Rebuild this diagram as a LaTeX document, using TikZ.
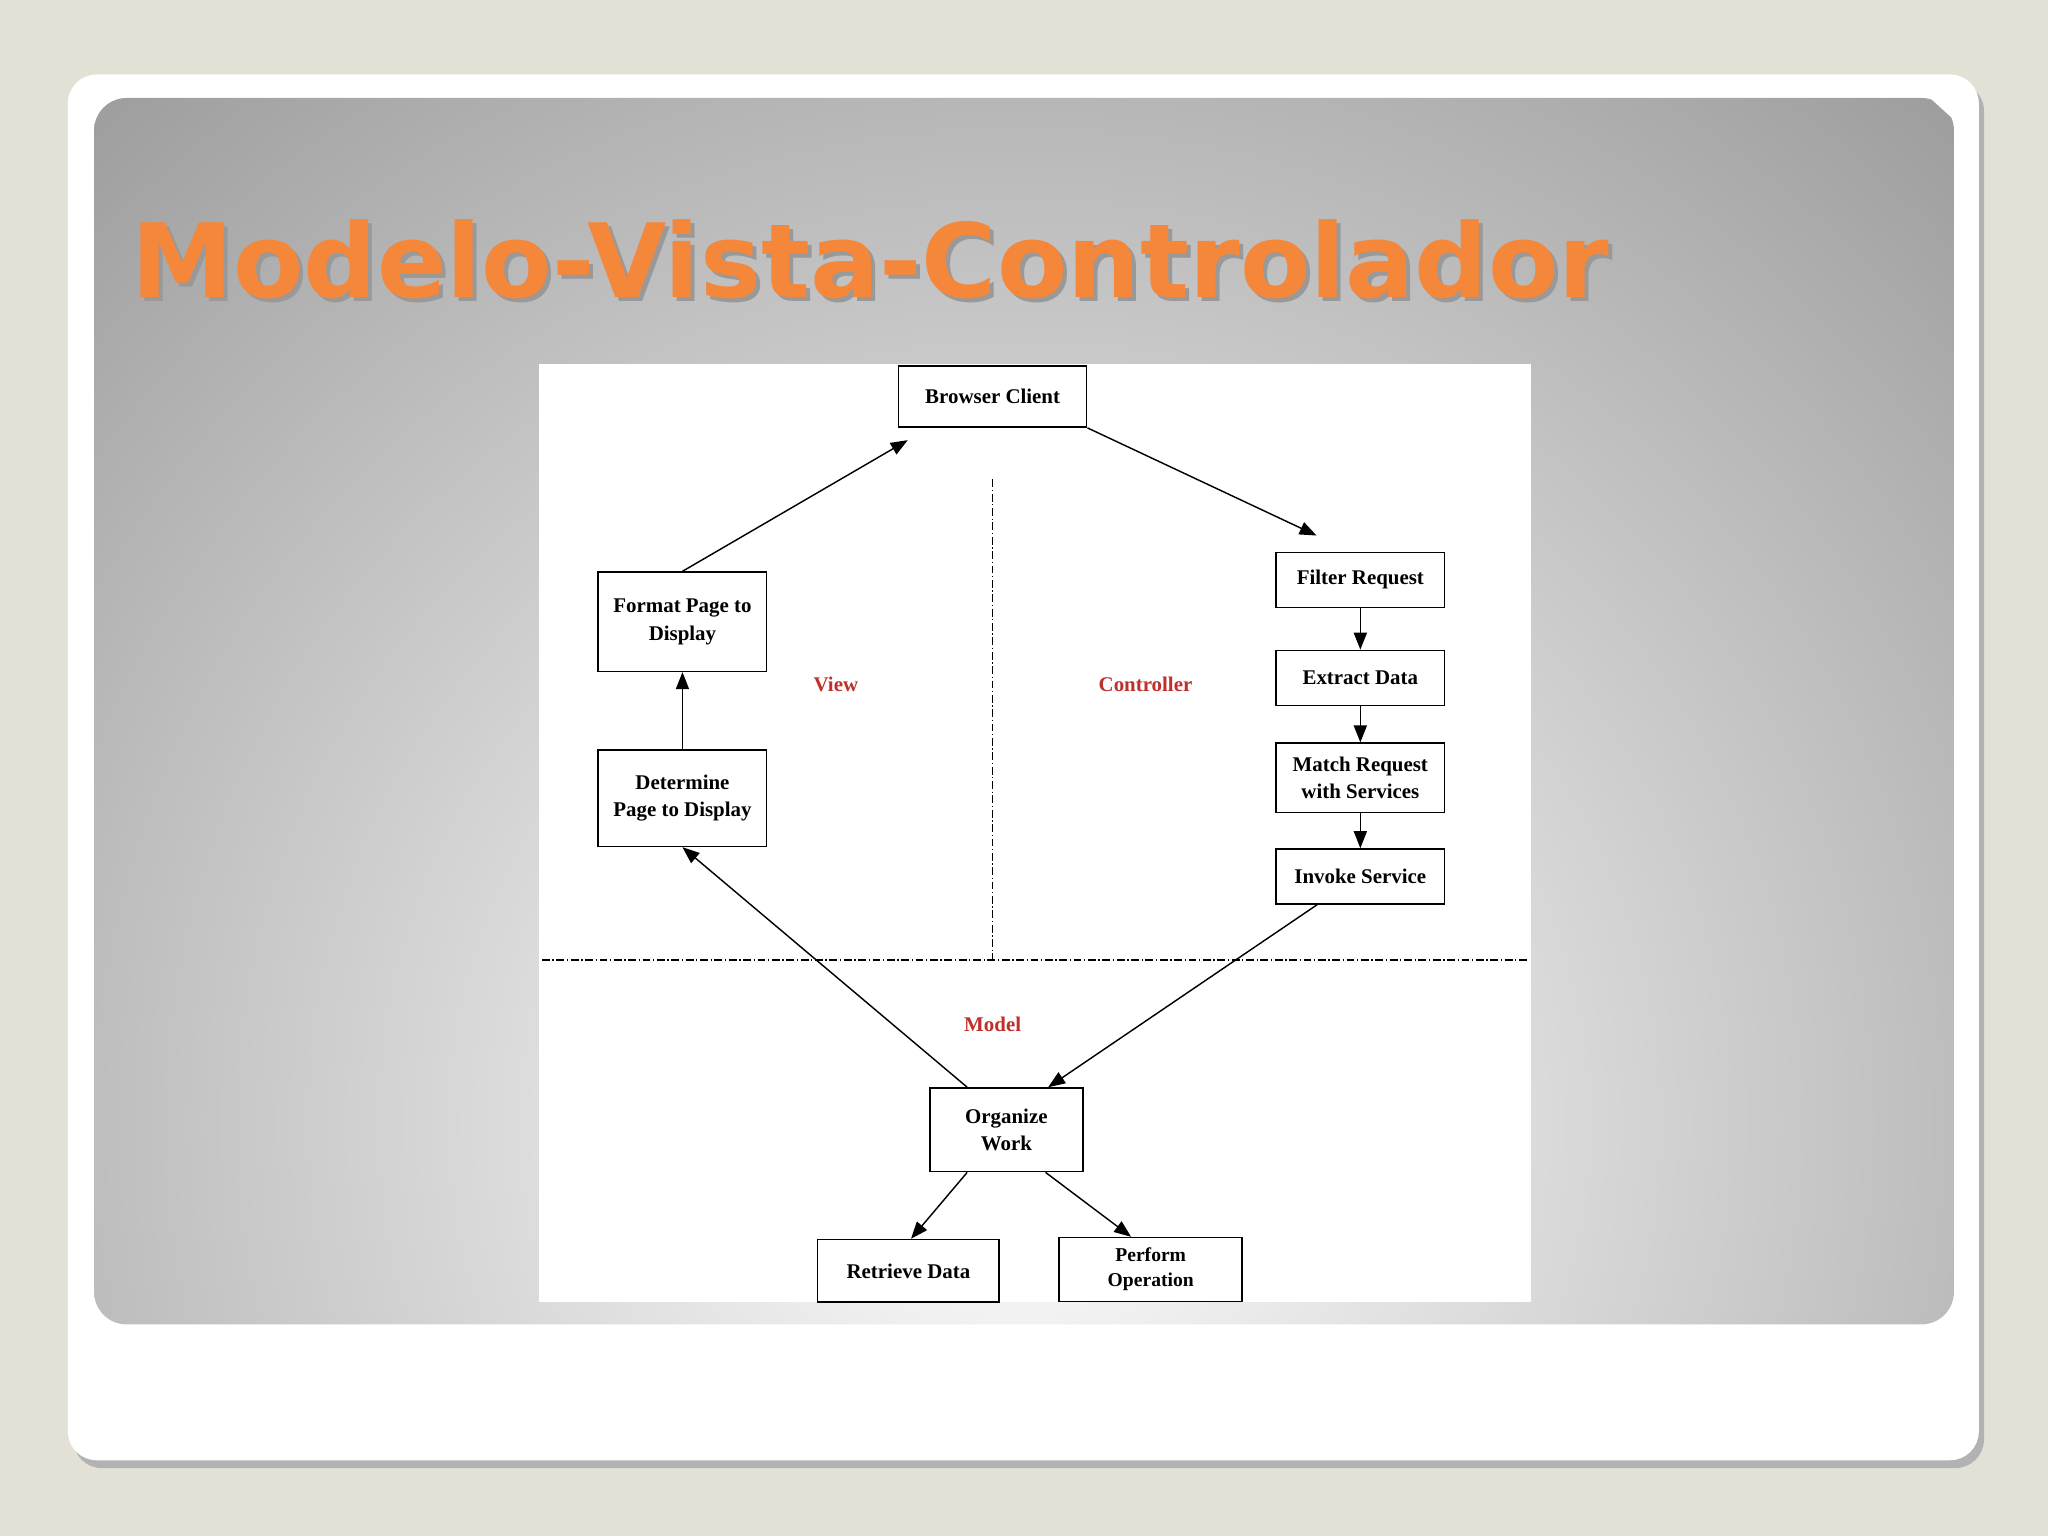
\documentclass[tikz,border=0pt]{standalone}
\usepackage{fontspec}
\setmainfont{Liberation Serif}
\newfontfamily\titlefont{DejaVu Sans}
\usetikzlibrary{arrows.meta,shadows}
\definecolor{bgbeige}{HTML}{E3E0D6}
\definecolor{titleor}{HTML}{F5873A}
\definecolor{lblred}{HTML}{C0302A}
\tikzset{
 box/.style={draw,line width=1.2pt,fill=white,minimum width=129pt,minimum height=42pt,align=center,inner sep=2pt,font=\fontsize{16}{21}\selectfont\bfseries},
 arr/.style={line width=1.1pt,-{Triangle[length=13pt,width=10pt]}},
 lbl/.style={text=lblred,font=\fontsize{16}{19}\selectfont\bfseries},
 dd/.style={line width=0.9pt,dash pattern=on 6pt off 2pt on 1pt off 2pt},
 ttl/.style={anchor=base west,font=\titlefont\fontsize{78.5}{82}\selectfont\bfseries}
}
\begin{document}
\begin{tikzpicture}[x=1pt,y=1pt]
\useasboundingbox (0,0) rectangle (1568,-1176);
\fill[bgbeige] (0,0) rectangle (1568,-1176);
\fill[black!30,rounded corners=22pt] (56,-63) rectangle (1519,-1124);
\fill[white,rounded corners=22pt] (52,-57) rectangle (1515,-1118);
\begin{scope}
\clip[rounded corners=25pt] (72,-75) rectangle (1496,-1014);
\shade[inner color=white,outer color=black!38] (780,-860) circle (1050pt);
\end{scope}
\node[ttl,text=black!40] (tsh) at (100,-231) {Modelo-Vista-Controlador};
\node[ttl,text=titleor] (ttl) at (97,-228) {Modelo-Vista-Controlador};
\fill[white] (413,-279) rectangle (1172,-997);
\draw[dd] (760,-367) -- (760,-735);
\draw[dd] (415,-735) -- (1170,-735);
\node[box,minimum width=144pt,minimum height=47pt] (bc) at (760,-303.5) {Browser Client};
\node[box] (fr) at (1041.5,-444) {Filter Request};
\node[box] (ed) at (1041.5,-519) {Extract Data};
\node[box,minimum height=53pt] (mr) at (1041.5,-595.5) {Match Request\\with Services};
\node[box] (is) at (1041.5,-671) {Invoke Service};
\node[box,minimum height=76pt] (fp) at (522.5,-476) {Format Page to\\Display};
\node[box,minimum height=74pt] (dp) at (522.5,-611) {Determine\\Page to Display};
\node[box,minimum width=117pt,minimum height=64pt] (ow) at (770.5,-865) {Organize\\Work};
\node[box,minimum width=139pt,minimum height=48pt] (rd) at (695.5,-973) {Retrieve Data};
\node[box,minimum width=140pt,minimum height=49pt,font=\fontsize{15}{19}\selectfont\bfseries] (po) at (881,-972) {Perform\\Operation};
\node[lbl] (lv) at (640,-524) {View};
\node[lbl] (lc) at (877,-524) {Controller};
\node[lbl] (lm) at (760,-784) {Model};
\coordinate (c1) at (1008,-410);
\coordinate (c2) at (695,-337);
\draw[arr] (bc.south east) -- (c1);
\draw[arr] (fr) -- (ed);
\draw[arr] (ed) -- (mr);
\draw[arr] (mr) -- (is);
\draw[arr] ([xshift=-33pt]is.south) -- ([xshift=32pt]ow.north);
\draw[arr] ([xshift=-30pt]ow.north) -- (dp.south);
\draw[arr] (dp) -- (fp);
\draw[arr] (fp.north) -- (c2);
\draw[arr] ([xshift=-30pt]ow.south) -- ([xshift=2pt]rd.north);
\draw[arr] ([xshift=30pt]ow.south) -- ([xshift=-15pt]po.north);
\end{tikzpicture}
\end{document}
